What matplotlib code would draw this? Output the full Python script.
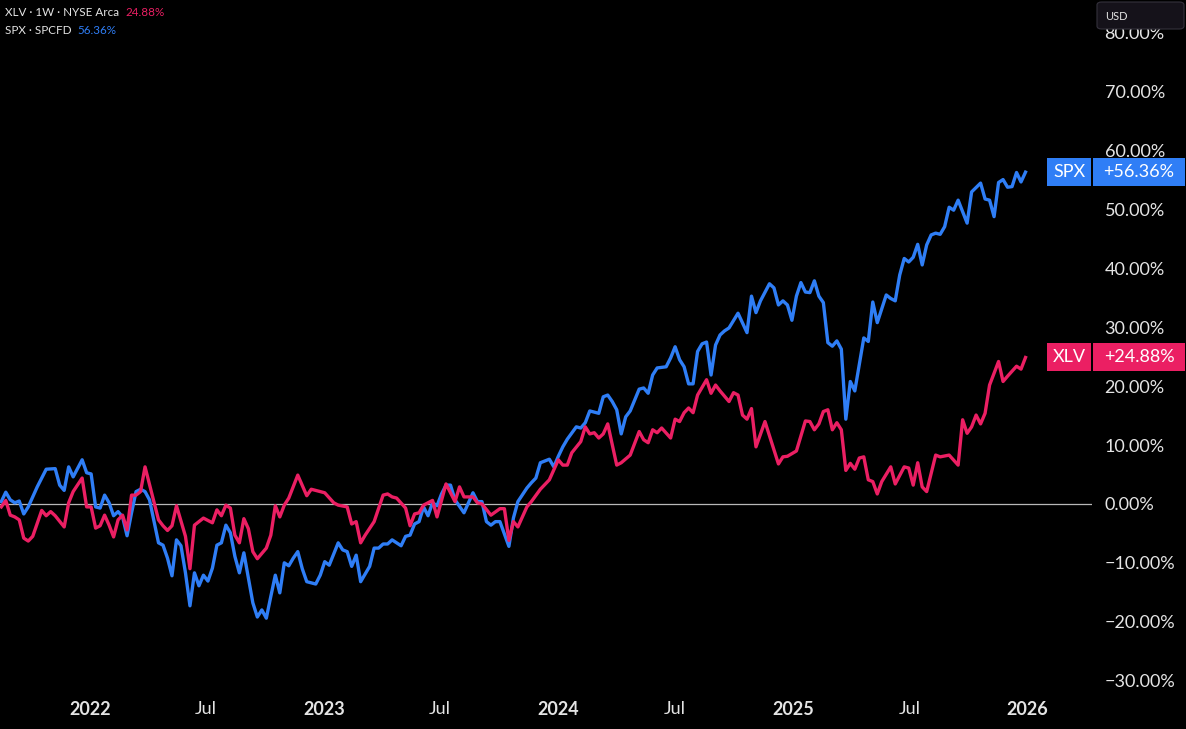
import numpy as np
import matplotlib
matplotlib.use("Agg")
import matplotlib.pyplot as plt
import matplotlib.dates as mdates
from matplotlib.patches import Rectangle, FancyBboxPatch
from matplotlib.transforms import blended_transform_factory

plt.rcParams['font.family'] = ['Lato', 'DejaVu Sans']

# weekly bars, counted from the first bar (week of 2021-08-16)
start = np.datetime64('2021-08-16')

spx_weeks = [0, 1, 2, 3, 4, 5, 6, 8, 10, 12, 13, 14, 15, 16, 18, 19, 20, 21, 22, 23,
             24, 25, 26, 27, 28, 29, 30, 31, 32, 33, 35, 36, 37, 38, 39, 40, 41, 42, 43, 44,
             45, 46, 47, 48, 49, 50, 51, 52, 53, 54, 56, 57, 58, 59, 60, 61, 62, 63, 64, 65,
             66, 67, 68, 70, 71, 72, 73, 75, 76, 77, 78, 79, 80, 82, 83, 84, 85, 86, 87, 89,
             90, 91, 92, 93, 94, 95, 96, 97, 98, 99, 100, 101, 103, 104, 105, 106, 107, 108, 109, 110,
             111, 113, 114, 115, 117, 118, 119, 120, 122, 123, 124, 125, 126, 128, 129, 130, 131, 133, 134, 135,
             136, 137, 138, 139, 140, 142, 143, 144, 145, 146, 148, 149, 150, 151, 152, 153, 154, 155, 156, 157,
             158, 159, 160, 161, 162, 164, 166, 167, 168, 169, 171, 172, 173, 174, 175, 176, 177, 178, 179, 180,
             181, 182, 183, 184, 185, 186, 187, 188, 189, 190, 192, 193, 194, 195, 197, 198, 199, 200, 201, 202,
             203, 204, 205, 206, 207, 208, 209, 210, 211, 212, 213, 215, 216, 218, 219, 220, 221, 222, 223, 224,
             225, 226, 227, 228]
spx_pct = [0.4, 2.0, 0.7, 0.2, 0.5, -1.7, -0.5, 2.9, 5.9, 6.0, 3.2, 2.3, 6.3, 4.6, 7.5, 5.3, 5.1, -0.5, -0.7, 1.5,
           0.2, -2.0, -1.3, -2.2, -5.4, -1.5, 2.1, 2.5, 2.1, 0.7, -6.6, -7.0, -9.2, -12.2, -6.1, -7.1, -11.7, -17.3, -11.7, -13.9,
           -12.1, -13.1, -10.9, -7.0, -6.6, -3.6, -4.9, -8.9, -11.7, -8.3, -16.8, -19.2, -18.0, -19.4, -15.7, -12.1, -15.1, -10.0, -10.5, -9.2,
           -8.1, -11.0, -13.2, -13.6, -12.1, -9.8, -10.4, -6.6, -7.8, -8.1, -10.6, -8.7, -13.2, -10.6, -7.5, -7.5, -6.8, -6.8, -6.1, -7.1,
           -5.5, -5.3, -3.4, -3.0, -0.5, -2.0, 0.2, -0.3, 1.7, 3.2, 3.2, 0.7, -1.5, 0.2, 1.9, 0.4, 0.4, -3.0, -3.6, -3.0,
           -3.0, -7.2, -2.4, 0.4, 2.7, 3.6, 4.4, 7.0, 7.6, 6.3, 8.1, 9.7, 11.0, 13.1, 12.9, 13.8, 15.8, 15.4, 18.2, 18.5,
           17.4, 16.0, 11.9, 14.8, 15.8, 19.5, 19.7, 18.8, 21.9, 23.1, 23.3, 24.8, 26.7, 24.5, 23.3, 20.4, 20.4, 25.9, 27.2, 27.5,
           21.9, 27.0, 28.7, 29.4, 29.9, 32.4, 29.1, 35.3, 32.5, 34.5, 37.4, 36.7, 33.8, 34.5, 33.8, 31.2, 35.3, 37.6, 36.0, 35.9,
           37.9, 35.3, 34.2, 27.4, 26.8, 27.7, 26.3, 14.4, 20.8, 19.2, 28.2, 27.6, 34.3, 30.8, 35.5, 34.9, 34.5, 38.9, 41.7, 41.1,
           41.9, 44.1, 40.6, 44.0, 45.7, 46.0, 45.8, 47.1, 50.4, 49.9, 51.6, 47.7, 53.0, 54.5, 51.8, 51.6, 48.8, 54.6, 55.1, 53.8,
           53.9, 56.3, 54.7, 56.36]

xlv_weeks = [0, 1, 2, 3, 4, 5, 6, 7, 9, 10, 11, 12, 14, 15, 16, 18, 19, 20, 21, 22,
             23, 24, 25, 26, 27, 28, 29, 30, 31, 32, 35, 36, 37, 38, 39, 41, 42, 43, 45, 47,
             48, 49, 50, 51, 52, 53, 54, 55, 56, 57, 59, 60, 61, 62, 63, 64, 66, 68, 69, 72,
             74, 75, 77, 78, 79, 80, 81, 83, 85, 86, 87, 88, 90, 91, 92, 93, 94, 96, 97, 99,
             101, 102, 103, 105, 106, 107, 109, 111, 112, 113, 114, 115, 117, 118, 120, 122, 123, 124, 125, 126,
             127, 129, 130, 131, 132, 133, 134, 135, 137, 138, 140, 142, 143, 144, 145, 146, 147, 149, 150, 151,
             152, 153, 154, 155, 157, 158, 159, 160, 162, 163, 164, 165, 166, 167, 168, 170, 173, 174, 175, 177,
             179, 180, 181, 182, 183, 184, 185, 186, 187, 188, 189, 190, 191, 192, 193, 194, 195, 196, 198, 199,
             201, 202, 203, 204, 205, 206, 208, 209, 211, 213, 214, 215, 216, 217, 218, 219, 220, 222, 223, 224,
             226, 227, 228]
xlv_pct = [-0.5, 0.6, -1.9, -2.2, -2.7, -5.8, -6.3, -5.5, -1.1, -2.0, -1.3, -2.0, -3.9, 0.2, 2.1, 4.4, -0.5, -0.5, -4.1, -3.7,
           -1.9, -3.6, -5.6, -2.7, -1.9, -4.4, 1.5, 1.5, 2.1, 6.3, -2.7, -3.7, -4.5, -3.7, -0.3, -5.5, -11.0, -3.6, -2.4, -3.2,
           -1.0, -2.0, -0.2, -0.7, -5.3, -6.6, -2.5, -4.2, -8.1, -9.3, -7.5, -5.3, -0.3, -2.2, -0.2, 1.0, 4.9, 1.4, 2.5, 1.9,
           0.2, -0.2, -0.5, -3.4, -3.0, -6.6, -5.3, -3.0, 1.5, 1.7, 1.2, 1.0, -0.7, -3.7, -1.7, -1.5, -0.2, 0.6, -2.2, 3.4,
           0.4, 2.9, 1.2, 1.2, 0.2, 0.0, -1.9, -0.8, -0.8, -6.2, -3.0, -3.9, -0.5, 0.4, 2.5, 4.1, 5.8, 7.5, 6.6, 6.6,
           8.7, 10.6, 13.1, 11.9, 12.1, 11.2, 11.9, 13.6, 6.6, 7.0, 8.3, 12.3, 10.9, 10.4, 12.6, 12.1, 12.9, 11.2, 14.4, 14.0,
           15.5, 16.3, 15.5, 18.5, 21.1, 18.8, 20.2, 19.2, 17.4, 18.9, 18.5, 15.1, 14.4, 16.2, 9.7, 14.0, 6.8, 8.0, 8.1, 9.0,
           14.1, 14.0, 12.6, 13.6, 15.7, 16.0, 12.6, 13.8, 12.6, 5.7, 6.9, 5.9, 7.8, 8.0, 4.1, 3.8, 1.7, 3.8, 6.3, 3.4,
           6.3, 6.1, 3.2, 7.0, 2.9, 2.1, 8.3, 8.0, 8.3, 6.6, 14.3, 12.0, 13.1, 15.1, 13.6, 15.4, 20.2, 24.2, 20.8, 21.7,
           23.4, 22.9, 24.88]

yticks = list(range(-30, 90, 10))
xtick_dates = ['2022-01-01', '2022-07-01', '2023-01-01', '2023-07-01', '2024-01-01',
               '2024-07-01', '2025-01-01', '2025-07-01', '2026-01-01']
xtick_labels = ['2022', 'Jul', '2023', 'Jul', '2024', 'Jul', '2025', 'Jul', '2026']

BLUE = '#2f7ef6'
PINK = '#eb1f63'
TXT = '#e4e4e4'

W, H = 1186, 729
fig = plt.figure(figsize=(W / 100, H / 100), dpi=100, facecolor='black')
ax = fig.add_axes([0, 39 / H, 1092 / W, 690 / H])
ax.set_facecolor('black')

spx_dates = start + np.array(spx_weeks) * np.timedelta64(7, 'D')
xlv_dates = start + np.array(xlv_weeks) * np.timedelta64(7, 'D')

ax.axhline(0, color='#b8b8b8', lw=0.9, zorder=1)
ax.plot(spx_dates, spx_pct, color=BLUE, lw=2.4, solid_joinstyle='round', zorder=2)
ax.plot(xlv_dates, xlv_pct, color=PINK, lw=2.4, solid_joinstyle='round', zorder=3)

x0 = mdates.date2num(start)
ax.set_xlim(x0 - 2.0, x0 + 242.8 * 7)
ax.set_ylim(-31.6, 85.6)

for s in ax.spines.values():
    s.set_visible(False)

ax.yaxis.tick_right()
ax.set_yticks(yticks)
ax.set_yticklabels([f"{v:.2f}%".replace('-', '\u2212') for v in yticks])
ax.tick_params(axis='y', length=0, pad=9, labelsize=13, labelcolor=TXT)

ax.set_xticks([mdates.date2num(np.datetime64(d)) for d in xtick_dates])
ax.set_xticklabels(xtick_labels)
ax.tick_params(axis='x', length=0, pad=8, labelsize=13, labelcolor=TXT)
for lab in ax.get_xticklabels():
    if lab.get_text() != 'Jul':
        lab.set_fontweight('bold')

# price labels on the right scale
tr = blended_transform_factory(fig.transFigure, ax.transData)
box_h = 28 / 5.89
for name, val, col in [('SPX', spx_pct[-1], BLUE), ('XLV', xlv_pct[-1], PINK)]:
    ax.add_patch(Rectangle((1047 / W, val - box_h / 2), 44 / W, box_h, transform=tr,
                           facecolor=col, edgecolor='none', clip_on=False, zorder=5))
    ax.add_patch(Rectangle((1093 / W, val - box_h / 2), 92 / W, box_h, transform=tr,
                           facecolor=col, edgecolor='none', clip_on=False, zorder=5))
    ax.text(1069 / W, val, name, transform=tr, color='white', fontsize=13,
            ha='center', va='center', zorder=6, clip_on=False)
    ax.text(1139 / W, val, f"+{val:.2f}%", transform=tr, color='white', fontsize=13,
            ha='center', va='center', zorder=6, clip_on=False)

# currency box (sits over the top of the 80% label)
fig.patches.append(FancyBboxPatch((1097 / W, 1 - 29 / H), 87 / W, 27 / H,
                                  boxstyle='round,pad=0,rounding_size=0.004',
                                  transform=fig.transFigure, facecolor='#15121a',
                                  edgecolor='#34313c', lw=0.8, zorder=10))
fig.text(1105 / W, 1 - 16 / H, 'USD', color=TXT, fontsize=8, va='center', zorder=11)

# legend rows, top left
fig.text(5 / W, 1 - 13 / H, 'XLV \u00b7 1W \u00b7 NYSE Arca', color=TXT, fontsize=8.4, va='center')
fig.text(125 / W, 1 - 13 / H, f"{xlv_pct[-1]:.2f}%", color=PINK, fontsize=8.4, va='center')
fig.text(5 / W, 1 - 30 / H, 'SPX \u00b7 SPCFD', color=TXT, fontsize=8.4, va='center')
fig.text(77 / W, 1 - 30 / H, f"{spx_pct[-1]:.2f}%", color=BLUE, fontsize=8.4, va='center')

fig.savefig('out.png', dpi=100, facecolor='black')
